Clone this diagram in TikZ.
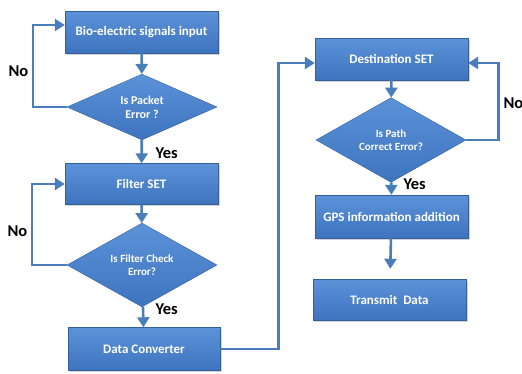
\documentclass[tikz,border=0pt]{standalone}
\usepackage{fontspec}
\setmainfont{Carlito}
\usepackage{tikz}
\usetikzlibrary{
    shapes.geometric, arrows.meta, positioning, calc, shadows
}
\definecolor{colFill}{RGB}{62, 116, 190}
\definecolor{colTop}{RGB}{92, 146, 216}
\definecolor{colEdge}{RGB}{52, 95, 155}
\definecolor{colLine}{RGB}{74, 126, 187}

\begin{document}
\begin{tikzpicture}[x=1pt, y=-1pt,
    every node/.style={font=\bfseries},
    procbox/.style={rectangle, draw=colEdge, thin, top color=colTop, bottom color=colFill,
        minimum width=153pt, minimum height=42pt, text=white, font=\bfseries\fontsize{13}{15}\selectfont,
        drop shadow={shadow xshift=1.5pt, shadow yshift=-1.5pt, opacity=0.35}},
    decision/.style={diamond, draw=colEdge, thin, top color=colTop, bottom color=colFill,
        minimum width=150pt, minimum height=55pt, inner sep=0pt, align=center, text=white,
        font=\bfseries\fontsize{12}{14}\selectfont},
    arr/.style={colLine, line width=2.6pt, -{Triangle[width=12pt,length=10pt]}},
    lbl/.style={font=\bfseries\fontsize{16.5}{18}\selectfont, anchor=west}
]
    \useasboundingbox (0,0) rectangle (522,373);

    % left column
    \node[procbox] (input) at (141.5, 32) {Bio-electric signals input};
    \node[decision] (packet) at (142, 107) {Is Packet\\Error ?};
    \node[procbox, minimum height=41pt] (filter) at (141.5, 184) {Filter SET};
    \node[decision, font=\bfseries\fontsize{11}{13}\selectfont] (check) at (142, 265) {Is Filter Check\\Error?};
    \node[procbox, minimum height=43pt, minimum width=152pt] (conv) at (144, 349) {Data Converter};

    % right column
    \node[procbox] (dest) at (391.5, 59) {Destination SET};
    \node[decision, minimum height=54pt, font=\bfseries\fontsize{11}{13}\selectfont] (path) at (391, 140) {Is Path\\Correct Error?};
    \node[procbox, minimum height=43pt] (gps) at (391.5, 216.5) {GPS information addition};
    \node[procbox, minimum height=41pt] (send) at (389.5, 299.5) {Transmit~ Data};

    % arrows
    \draw[arr] (input) -- (packet);
    \draw[arr] (packet.west) -- ++(-34,0) |- ([yshift=7pt]input.west);
    \draw[arr] (packet) -- (filter);
    \draw[arr] (filter) -- (check);
    \draw[arr] (check.west) -- ++(-35,0) |- (filter.west);
    \draw[arr] (check) -- (conv);
    \draw[arr] (conv.east) -- ++(58,0) |- ([yshift=-4pt]dest.west);
    \draw[arr] (dest) -- (path);
    \draw[arr] (path.east) -- ++(32,0) |- ([yshift=-4pt]dest.east);
    \draw[arr] (path) -- (gps);
    \draw[arr, shorten >=10pt] (gps) -- (send);

    % labels
    \node[lbl] (no1) at (5, 71) {No};
    \node[lbl] (yes1) at (152, 153) {Yes};
    \node[lbl] (no2) at (4, 231) {No};
    \node[lbl] (yes2) at (152, 309) {Yes};
    \node[lbl] (no3) at (500, 103) {No};
    \node[lbl] (yes3) at (400, 184) {Yes};
\end{tikzpicture}
\end{document}
